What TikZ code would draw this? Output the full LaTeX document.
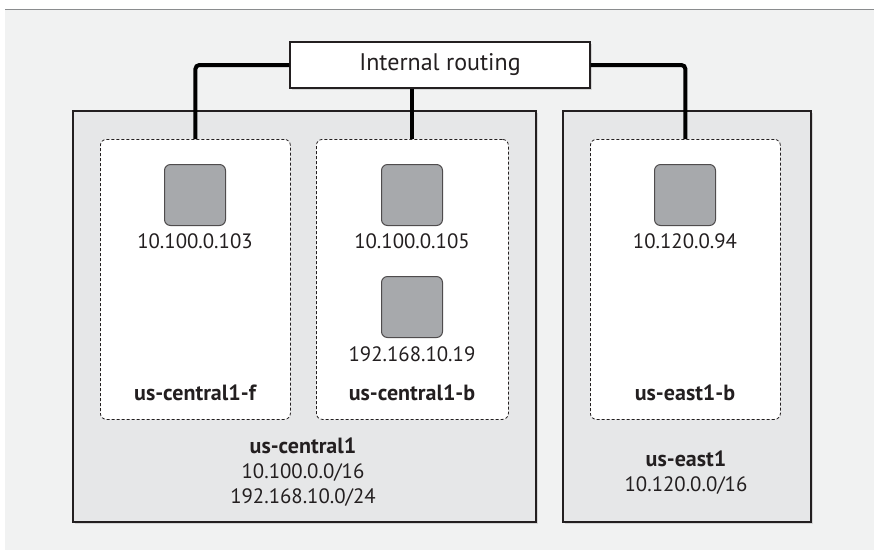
\documentclass[tikz,border=0pt]{standalone}
\usepackage{fontspec}
\setmainfont{PT Sans}
\usetikzlibrary{shadows}
\definecolor{bgc}{HTML}{F1F2F2}
\definecolor{regionc}{HTML}{E6E7E8}
\definecolor{vmc}{HTML}{A7A9AC}
\definecolor{edgec}{HTML}{231F20}
\definecolor{topline}{HTML}{8A8C8E}
\tikzset{
  region/.style={draw=edgec, line width=2pt, fill=regionc, anchor=north west,
    drop shadow={shadow xshift=2pt, shadow yshift=-2pt, opacity=0.25}},
  zone/.style={draw=edgec, line width=0.8pt, dashed, dash pattern=on 3pt off 2pt, fill=white, rounded corners=6pt, anchor=north west},
  vm/.style={draw=edgec!80, line width=1pt, fill=vmc, rounded corners=6pt, minimum width=61, minimum height=61},
  router/.style={draw=edgec, line width=1.2pt, fill=white, minimum width=300, minimum height=46,
    drop shadow={shadow xshift=2pt, shadow yshift=-2pt, opacity=0.25}},
  conn/.style={line width=4pt, black, rounded corners=4pt},
  rtxt/.style={font=\fontsize{24}{28}\selectfont, text=edgec, inner sep=0pt},
  txt/.style={font=\fontsize{20.8}{24}\selectfont, text=edgec, inner sep=0pt},
  btxt/.style={font=\fontsize{22}{26}\selectfont\bfseries, text=edgec, inner sep=0pt}
}
\begin{document}
\begin{tikzpicture}[x=1pt,y=-1pt]
\useasboundingbox (0,0) rectangle (874,550);
\fill[white] (0,0) rectangle (874,550);
\fill[bgc] (5,9) rectangle (874,550);
\draw[topline, line width=1pt] (5,9) -- (874,9);

% regions
\node[region, minimum width=463, minimum height=411] (r1) at (72,110) {};
\node[region, minimum width=248, minimum height=411] (r2) at (562,110) {};

% zones
\node[zone, minimum width=190, minimum height=280] (z1) at (100,139) {};
\node[zone, minimum width=192, minimum height=280] (z2) at (316,139) {};
\node[zone, minimum width=190, minimum height=280] (z3) at (590,139) {};

% router
\node[router, rtxt] (rt) at (440,65) {Internal routing};

% connectors
\draw[conn] (rt.west) -| (z1.north);
\draw[conn] (z2.north |- rt.south) -- (z2.north);
\draw[conn] (rt.east) -| (z3.north);

% VMs
\node[vm] (v1) at (195,195) {};
\node[vm] (v2) at (412,195) {};
\node[vm] (v3) at (412,307) {};
\node[vm] (v4) at (685,195) {};
\node[txt] (l1) at (195,241) {10.100.0.103};
\node[txt] (l2) at (412,241) {10.100.0.105};
\node[txt] (l3) at (412,354) {192.168.10.19};
\node[txt] (l4) at (685,241) {10.120.0.94};

% zone labels
\node[btxt] (zl1) at (195,393) {us-central1-f};
\node[btxt] (zl2) at (412,393) {us-central1-b};
\node[btxt] (zl3) at (685,393) {us-east1-b};

% region labels
\node[btxt] (rl1) at (303,446) {us-central1};
\node[txt] (rl1a) at (303,473) {10.100.0.0/16};
\node[txt] (rl1b) at (303,498) {192.168.10.0/24};
\node[btxt] (rl2) at (686,459) {us-east1};
\node[txt] (rl2a) at (686,486) {10.120.0.0/16};
\end{tikzpicture}
\end{document}
